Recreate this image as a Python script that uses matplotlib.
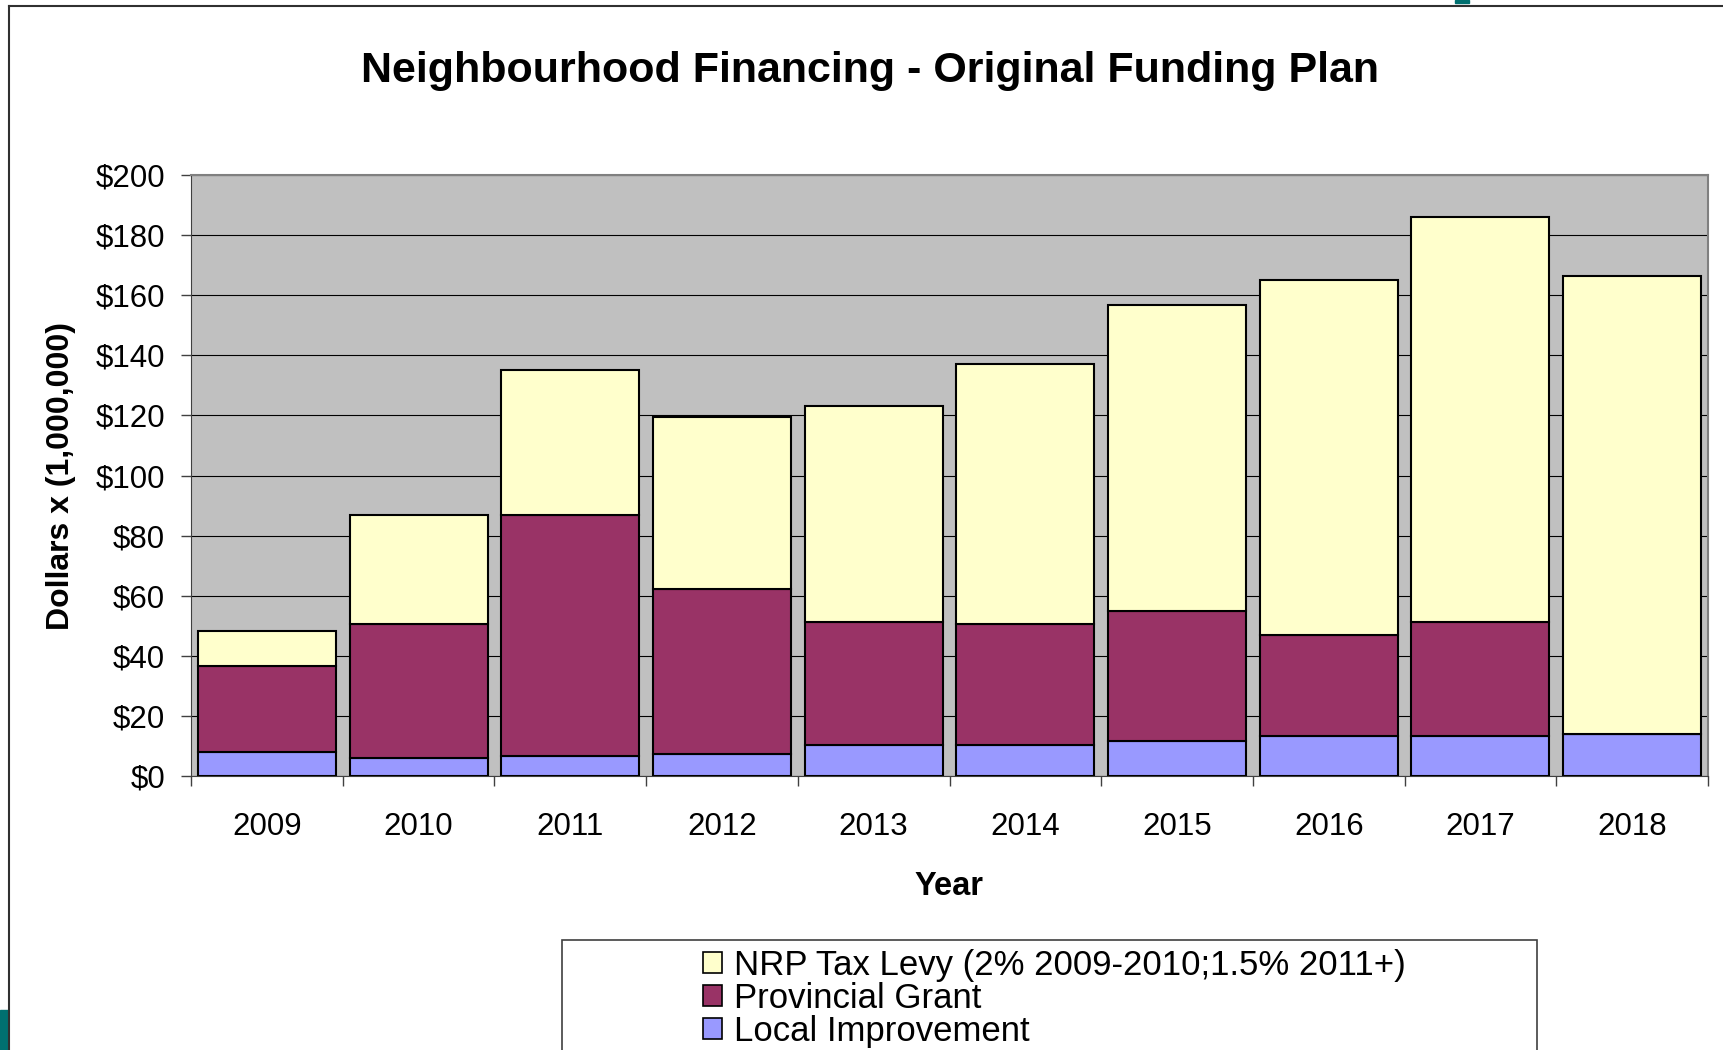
import matplotlib
matplotlib.use("Agg")
import matplotlib.pyplot as plt
from matplotlib.patches import Patch, Rectangle
from matplotlib.lines import Line2D
import numpy as np

plt.rcParams['font.family'] = ['Liberation Sans', 'DejaVu Sans']

# values, $ millions
years = ['2009', '2010', '2011', '2012', '2013', '2014', '2015', '2016', '2017', '2018']
local_improvement = np.array([8.0, 5.9, 6.6, 7.3, 10.2, 10.2, 11.7, 13.2, 13.2, 13.9])
provincial_grant = np.array([28.6, 44.6, 80.4, 54.9, 41.0, 40.3, 43.1, 33.6, 38.0, 0.0])
tax_levy = np.array([11.7, 36.5, 48.0, 57.4, 72.0, 86.5, 102.1, 118.1, 134.9, 152.5])

series_labels = ['NRP Tax Levy (2% 2009-2010;1.5% 2011+)', 'Provincial Grant', 'Local Improvement']
colors = {'tax': '#FFFFCC', 'prov': '#993366', 'local': '#9999FF'}

W, H = 1723, 1050
fig = plt.figure(figsize=(W / 100, H / 100), dpi=100)
ax = fig.add_axes([191 / W, 1 - 776 / H, (1708 - 191) / W, (776 - 175) / H])
ax.set_facecolor('#C0C0C0')

x = np.arange(len(years))
bw = 0.91
ec = 'black'
lw = 1.5
ax.bar(x, local_improvement, bw, color=colors['local'], edgecolor=ec, linewidth=lw, zorder=3)
ax.bar(x, provincial_grant, bw, bottom=local_improvement, color=colors['prov'],
       edgecolor=ec, linewidth=lw, zorder=3)
ax.bar(x, tax_levy, bw, bottom=local_improvement + provincial_grant, color=colors['tax'],
       edgecolor=ec, linewidth=lw, zorder=3)

ax.set_xlim(-0.5, len(years) - 0.5)
ax.set_ylim(0, 200)
yt = np.arange(0, 201, 20)
ax.set_yticks(yt)
ax.set_yticklabels(['$%d' % v for v in yt])
ax.yaxis.grid(True, color='black', linewidth=0.8, zorder=1)
ax.set_axisbelow(True)

# ticks between categories, labels at centres
ax.set_xticks(np.arange(-0.5, len(years), 1.0))
ax.set_xticklabels([])
ax.set_xticks(x, minor=True)
ax.set_xticklabels(years, minor=True)
ax.tick_params(axis='x', which='major', direction='out', length=7.5, width=1, color='#404040')
ax.tick_params(axis='x', which='minor', length=0, pad=26, labelsize=22.5)
ax.tick_params(axis='y', direction='out', length=7.5, width=1, color='#404040', pad=11, labelsize=22.5)

for s in ['top', 'right']:
    ax.spines[s].set_color('#808080')
    ax.spines[s].set_linewidth(1.5)
ax.spines['left'].set_color('#404040')
ax.spines['bottom'].set_color('#404040')

ax.set_ylabel('Dollars x (1,000,000)', fontsize=23, fontweight='bold', labelpad=14)
ax.set_xlabel('Year', fontsize=23.5, fontweight='bold', labelpad=21)

fig.text(870 / W, 1 - 71 / H, 'Neighbourhood Financing - Original Funding Plan',
         fontsize=31, fontweight='bold', ha='center', va='center')

# legend box runs off the bottom of the picture
fig.add_artist(Rectangle((562 / W, -0.1), (1537 - 562) / W, 0.1 + 1 - 940 / H,
                         transform=fig.transFigure, fill=False, edgecolor='#404040', linewidth=1.2))
handles = [Patch(facecolor=colors['tax'], edgecolor='black', linewidth=1.2),
           Patch(facecolor=colors['prov'], edgecolor='black', linewidth=1.2),
           Patch(facecolor=colors['local'], edgecolor='black', linewidth=1.2)]
fig.legend(handles, series_labels, loc='center left', bbox_to_anchor=(703 / W, 1 - 998 / H),
           frameon=False, fontsize=25, borderpad=0, borderaxespad=0, labelspacing=0.0,
           handlelength=0.54, handleheight=0.54, handletextpad=0.35)

# slide frame and bits of the page around it
fig.add_artist(Line2D([9 / W, 9 / W], [0, 1 - 6 / H], transform=fig.transFigure, color='#303030', linewidth=1.5))
fig.add_artist(Line2D([9 / W, 1], [1 - 6 / H, 1 - 6 / H], transform=fig.transFigure, color='#303030', linewidth=1.5))
fig.add_artist(Rectangle((0, 0), 8 / W, 40 / H, transform=fig.transFigure, color='#007070'))
fig.add_artist(Rectangle((1455 / W, 1 - 3 / H), 14 / W, 3 / H, transform=fig.transFigure, color='#007070'))

fig.savefig('out.png', dpi=100)
